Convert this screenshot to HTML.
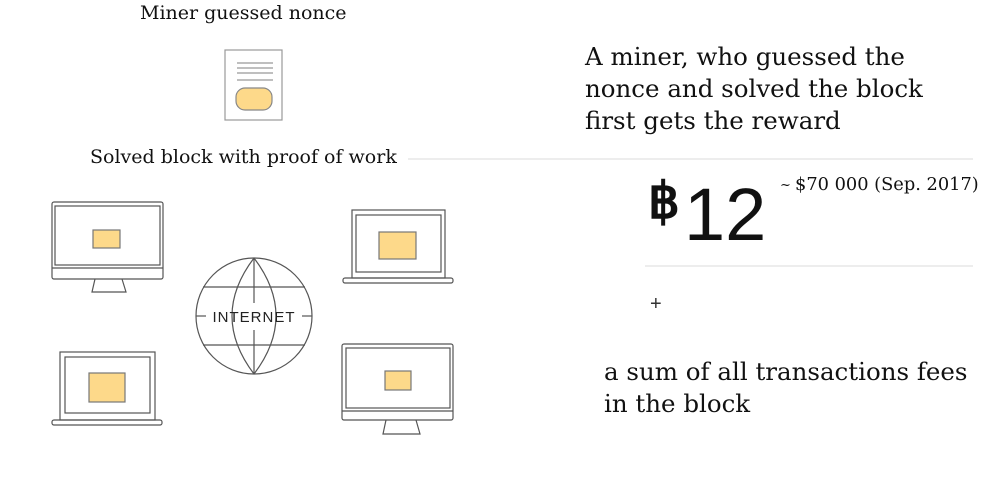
<!DOCTYPE html>
<html><head><meta charset="utf-8"><style>
body{margin:0;width:1000px;height:491px;background:#fff;overflow:hidden;position:relative;font-family:"DejaVu Serif","Liberation Serif",serif;color:#111}
.t{position:absolute;white-space:nowrap}
</style></head><body>
<div class="t" style="left:140px;top:2px;font-size:19px">Miner guessed nonce</div>
<div class="t" style="left:90px;top:146px;font-size:19px">Solved block with proof of work</div>
<div class="t" style="left:585px;top:41px;font-size:24.5px;line-height:32px">A miner, who guessed the<br>nonce and solved the block<br>first gets the reward</div>
<div class="t" style="left:604px;top:356px;font-size:24.5px;line-height:32px">a sum of all transactions fees<br>in the block</div>
<div class="t" style="left:795px;top:174px;font-size:17.8px">$70 000 (Sep. 2017)</div>
<div class="t" style="left:780px;top:178px;font-size:13px">~</div>
<div class="t" style="left:648px;top:172px;font-family:'Liberation Sans',sans-serif;font-size:50px;font-weight:bold">฿</div>
<div class="t" style="left:684px;top:170px;font-family:'Liberation Sans',sans-serif;font-size:74px;line-height:90px">12</div>
<div class="t" style="left:650px;top:293px;font-size:20px;font-family:'Liberation Sans',sans-serif;color:#333">+</div>
<svg width="1000" height="491" style="position:absolute;left:0;top:0" fill="none" stroke="#555" stroke-width="1.2">
<line x1="408" y1="159" x2="973" y2="159" stroke="#e2e2e2"/>
<line x1="645" y1="266" x2="973" y2="266" stroke="#e2e2e2"/>
<rect x="225" y="50" width="57" height="70" stroke="#999"/>
<g stroke="#aaa" stroke-width="1.5"><line x1="237" y1="63" x2="273" y2="63"/><line x1="237" y1="68" x2="273" y2="68"/><line x1="237" y1="73" x2="273" y2="73"/><line x1="237" y1="80" x2="273" y2="80"/></g>
<rect x="236" y="88" width="36" height="22" rx="9" fill="#fdd98a" stroke="#888"/>
<rect x="52" y="202" width="111" height="77" rx="2"/><rect x="55" y="206" width="105" height="59"/><line x1="52" y1="268" x2="163" y2="268"/>
<path d="M95 279 L92 292 H126 L122 279"/>
<rect x="93" y="230" width="27" height="18" fill="#fdd98a" stroke="#777"/>
<rect x="352" y="210" width="93" height="68"/><rect x="356" y="215" width="85" height="57"/><rect x="343" y="278" width="110" height="5" rx="2"/>
<rect x="379" y="232" width="37" height="27" fill="#fdd98a" stroke="#777"/>
<rect x="60" y="352" width="95" height="68"/><rect x="65" y="357" width="85" height="56"/><rect x="52" y="420" width="110" height="5" rx="2"/>
<rect x="89" y="373" width="36" height="29" fill="#fdd98a" stroke="#777"/>
<rect x="342" y="344" width="111" height="76" rx="2"/><rect x="346" y="348" width="104" height="60"/><line x1="342" y1="411" x2="453" y2="411"/>
<path d="M386 420 L383 434 H420 L416 420"/>
<rect x="385" y="371" width="26" height="19" fill="#fdd98a" stroke="#777"/>
<circle cx="254" cy="316" r="58"/>
<line x1="254" y1="258" x2="254" y2="303"/><line x1="254" y1="330" x2="254" y2="374"/>
<path d="M254 258 Q210 316 254 374 M254 258 Q298 316 254 374"/>
<line x1="203" y1="287" x2="305" y2="287"/><line x1="203" y1="345" x2="305" y2="345"/>
<line x1="196" y1="316" x2="206" y2="316"/><line x1="302" y1="316" x2="312" y2="316"/>
<text x="254" y="322" text-anchor="middle" fill="#222" stroke="none" font-family="Liberation Sans,sans-serif" font-size="15" letter-spacing="1">INTERNET</text>
</svg>
</body></html>
